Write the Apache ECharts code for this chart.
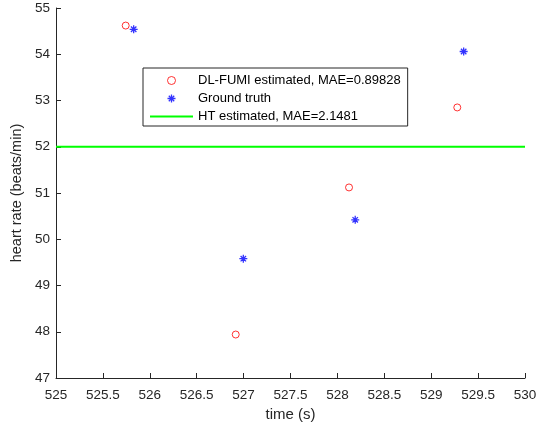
<!DOCTYPE html>
<html>
<head>
<meta charset="utf-8">
<script src="https://cdn.jsdelivr.net/npm/echarts@6/dist/echarts.min.js"></script>
<style>html,body{margin:0;padding:0;background:#fff}#c{width:551px;height:427px}</style>
</head>
<body>
<div id="c"></div>
<script>
var timeDL = [525.743, 526.916, 528.124, 529.278];
var hrDL = [54.62, 47.94, 51.12, 52.85];
var timeGT = [525.828, 526.997, 528.190, 529.346];
var hrGT = [54.54, 49.58, 50.42, 54.06];
var timeHT = [525, 530];
var hrHT = [52, 52];
var xTicks = {min: 525, max: 530, interval: 0.5};
var yTicks = {min: 47, max: 55, interval: 1};
var names = ['DL-FUMI estimated, MAE=0.89828', 'Ground truth', 'HT estimated, MAE=2.1481'];

function pairs(xs, ys) { return xs.map(function (x, i) { return [x, ys[i]]; }); }

var star = 'path://M5,0L5,10M0,5L10,5M1.6,1.6L8.4,8.4M1.6,8.4L8.4,1.6';
var txt = '#262626';
var font = 'Liberation Sans, Arial, sans-serif';
var chart = echarts.init(document.getElementById('c'), null, {renderer: 'canvas'});
chart.setOption({
  animation: false,
  backgroundColor: '#fff',
  textStyle: {fontFamily: font},
  grid: {left: 56, right: 26, top: 8, bottom: 48, containLabel: false},
  xAxis: {
    type: 'value', min: xTicks.min, max: xTicks.max, interval: xTicks.interval,
    name: 'time (s)', nameLocation: 'middle', nameGap: 29,
    nameTextStyle: {color: txt, fontSize: 15, fontFamily: font},
    axisLine: {show: true, onZero: false, lineStyle: {color: txt, width: 1}},
    axisTick: {show: true, inside: true, length: 5, lineStyle: {color: txt}},
    axisLabel: {color: txt, fontSize: 13.5, margin: 10, fontFamily: font},
    splitLine: {show: false}
  },
  yAxis: {
    type: 'value', min: yTicks.min, max: yTicks.max, interval: yTicks.interval,
    name: 'heart rate (beats/min)', nameLocation: 'middle', nameGap: 30, nameRotate: 90,
    nameTextStyle: {color: txt, fontSize: 14.5, fontFamily: font},
    axisLine: {show: true, onZero: false, lineStyle: {color: txt, width: 1}},
    axisTick: {show: true, inside: true, length: 5, lineStyle: {color: txt}},
    axisLabel: {color: txt, fontSize: 13.5, margin: 6, fontFamily: font},
    splitLine: {show: false}
  },
  legend: {
    orient: 'vertical', left: 143, top: 68,
    padding: [6, 7, 3, 7], itemGap: 5, itemWidth: 43, itemHeight: 8,
    backgroundColor: '#fff', borderColor: '#262626', borderWidth: 1, borderRadius: 0,
    textStyle: {color: '#000', fontSize: 13, fontFamily: font},
    data: [
      {name: names[0], icon: 'circle', itemStyle: {color: 'rgba(255,255,255,0)', borderColor: '#ff0000', borderWidth: 1}},
      {name: names[1], icon: star, itemStyle: {color: 'rgba(0,0,255,0)', borderColor: '#0000ff', borderWidth: 1.3}},
      {name: names[2], icon: 'path://M0,0L43,0L43,2L0,2Z', itemStyle: {color: '#00ff00', borderWidth: 0}}
    ]
  },
  series: [
    {
      name: names[0], type: 'scatter', data: pairs(timeDL, hrDL),
      symbol: 'circle', symbolSize: 7,
      itemStyle: {color: 'rgba(255,255,255,0)', borderColor: '#ff0000', borderWidth: 1}
    },
    {
      name: names[1], type: 'scatter', data: pairs(timeGT, hrGT),
      symbol: star, symbolSize: 8,
      itemStyle: {color: 'rgba(0,0,255,0)', borderColor: '#0000ff', borderWidth: 1.3}
    },
    {
      name: names[2], type: 'line', data: pairs(timeHT, hrHT),
      symbol: 'none', showSymbol: false,
      lineStyle: {color: '#00ff00', width: 2}, itemStyle: {color: '#00ff00'}
    }
  ]
});
</script>
</body>
</html>
